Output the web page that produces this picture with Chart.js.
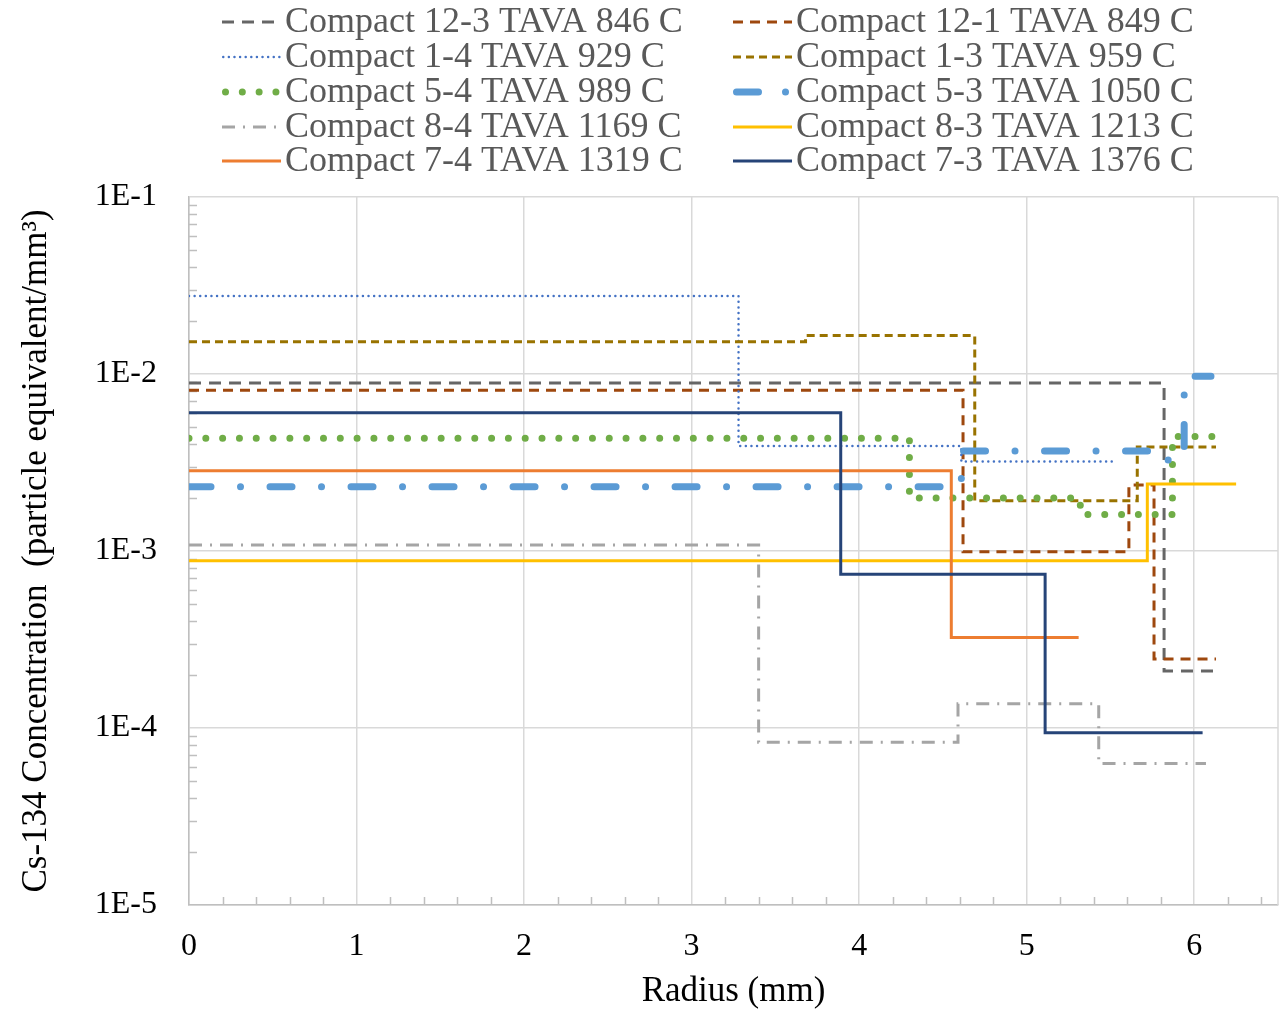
<!DOCTYPE html>
<html><head><meta charset="utf-8">
<script src="https://cdn.jsdelivr.net/npm/chart.js@4.4.1/dist/chart.umd.min.js"></script>
<style>html,body{margin:0;padding:0;background:#fff;}#wrap{width:1287px;height:1012px;}</style>
</head><body><div id="wrap"><canvas id="c" width="1287" height="1012"></canvas></div>
<script>
// ---- data (radius step edges in mm, concentration per step) ----
const seriesNames = [
  'Compact 12-3 TAVA 846 C', 'Compact 12-1 TAVA 849 C',
  'Compact 1-4 TAVA 929 C', 'Compact 1-3 TAVA 959 C',
  'Compact 5-4 TAVA 989 C', 'Compact 5-3 TAVA 1050 C',
  'Compact 8-4 TAVA 1169 C', 'Compact 8-3 TAVA 1213 C',
  'Compact 7-4 TAVA 1319 C', 'Compact 7-3 TAVA 1376 C'
];
const edges12_3 = [0, 5.82, 6.13];
const conc12_3  = [8.9e-3, 2.1e-4];
const edges12_1 = [0, 4.62, 5.61, 5.76, 6.13];
const conc12_1  = [8.1e-3, 9.9e-4, 2.36e-3, 2.45e-4];
const edges1_4  = [0, 3.28, 4.61, 5.52];
const conc1_4   = [2.76e-2, 3.92e-3, 3.2e-3];
const edges1_3  = [0, 3.68, 4.69, 5.66, 6.13];
const conc1_3   = [1.52e-2, 1.65e-2, 1.92e-3, 3.87e-3];
const edges5_4  = [0, 4.30, 5.32, 5.87, 6.11];
const conc5_4   = [4.33e-3, 1.99e-3, 1.61e-3, 4.43e-3];
const edges5_3  = [0, 4.61, 5.75, 5.94, 6.10];
const conc5_3   = [2.31e-3, 3.67e-3, 3.27e-3, 9.7e-3];
const edges8_4  = [0, 3.40, 4.59, 5.43, 6.07];
const conc8_4   = [1.08e-3, 8.3e-5, 1.37e-4, 6.3e-5];
const edges8_3  = [0, 5.72, 6.25];
const conc8_3   = [8.8e-4, 2.39e-3];
const edges7_4  = [0, 4.55, 5.31];
const conc7_4   = [2.84e-3, 3.25e-4];
const edges7_3  = [0, 3.89, 5.11, 6.05];
const conc7_3   = [6.04e-3, 7.38e-4, 9.4e-5];

const xTickValues = [0, 1, 2, 3, 4, 5, 6];
const yTickValues = [1e-5, 1e-4, 1e-3, 1e-2, 1e-1];

// ---- styles ----
const styles = [
  {color:'#666666', width:3, dash:[12,8], cap:'butt'},
  {color:'#9E480E', width:3, dash:[10,7], cap:'butt'},
  {color:'#4472C4', width:2.5, dash:[0.01,5.6], cap:'round'},
  {color:'#997300', width:3, dash:[8,5], cap:'butt'},
  {color:'#70AD47', width:7, dash:[0.01,16.8], cap:'round'},
  {color:'#5B9BD5', width:7, dash:[22,29.5,0.01,29.5], cap:'round', legendDash:[22,27,0.01,100]},
  {color:'#A5A5A5', width:3, dash:[13,8,2,8], cap:'butt'},
  {color:'#FFC000', width:3, dash:[], cap:'butt'},
  {color:'#ED7D31', width:3, dash:[], cap:'butt'},
  {color:'#264478', width:3, dash:[], cap:'butt'}
];
const edgeSets = [edges12_3, edges12_1, edges1_4, edges1_3, edges5_4, edges5_3, edges8_4, edges8_3, edges7_4, edges7_3];
const concSets = [conc12_3, conc12_1, conc1_4, conc1_3, conc5_4, conc5_3, conc8_4, conc8_3, conc7_4, conc7_3];

function stepPoints(edges, conc) {
  const pts = conc.map((v, i) => ({x: edges[i], y: v}));
  pts.push({x: edges[edges.length - 1], y: conc[conc.length - 1]});
  return pts;
}

const datasets = seriesNames.map((name, i) => ({
  label: name,
  data: stepPoints(edgeSets[i], concSets[i]),
  stepped: 'before',
  borderColor: styles[i].color,
  backgroundColor: styles[i].color,
  borderWidth: styles[i].width,
  borderDash: styles[i].dash,
  borderCapStyle: styles[i].cap,
  borderJoinStyle: 'miter',
  pointRadius: 0,
  pointHoverRadius: 0,
  fill: false,
  tension: 0,
  order: seriesNames.length - i
}));

const FONT = "'Liberation Serif', 'Times New Roman', serif";

const decorPlugin = {
  id: 'decor',
  beforeDatasetsDraw(chart) {
    const {ctx, chartArea: a, scales: {x, y}} = chart;
    ctx.save();
    ctx.strokeStyle = '#d9d9d9';
    ctx.lineWidth = 1.5;
    ctx.beginPath();
    ctx.moveTo(a.right, a.top); ctx.lineTo(a.right, a.bottom);
    ctx.stroke();
    ctx.strokeStyle = '#bfbfbf';
    ctx.lineWidth = 1.5;
    ctx.beginPath();
    for (let k = -5; k < -1; k++) {
      for (let m = 2; m <= 9; m++) {
        const py = Math.round(y.getPixelForValue(m * Math.pow(10, k))) + 0.5;
        ctx.moveTo(a.left, py); ctx.lineTo(a.left + 8, py);
      }
    }
    for (let t = 1; t <= 32; t++) {
      if (t % 5 === 0) continue;
      const px = Math.round(x.getPixelForValue(t * 0.2)) + 0.5;
      ctx.moveTo(px, a.bottom); ctx.lineTo(px, a.bottom - 8);
    }
    ctx.stroke();
    ctx.restore();
  },
  afterDraw(chart) {
    const {ctx} = chart;
    ctx.save();
    ctx.font = '36px ' + FONT;
    ctx.textBaseline = 'middle';
    ctx.textAlign = 'left';
    const colX = [222, 733];
    const rowY = [22, 57, 92, 127, 161];
    chart.data.datasets.forEach((ds, i) => {
      const col = i % 2, row = Math.floor(i / 2);
      const x0 = colX[col], yy = rowY[row];
      ctx.save();
      ctx.strokeStyle = ds.borderColor;
      ctx.lineWidth = ds.borderWidth;
      ctx.setLineDash(styles[i].legendDash || ds.borderDash);
      ctx.lineCap = ds.borderCapStyle;
      ctx.beginPath();
      const pad = ds.borderCapStyle === 'round' ? ds.borderWidth / 2 : 0;
      ctx.moveTo(x0 + pad, yy); ctx.lineTo(x0 + 58 - pad + 1, yy);
      ctx.stroke();
      ctx.restore();
      ctx.fillStyle = '#595959';
      ctx.fillText(ds.label, x0 + 63, yy + 1);
    });
    ctx.restore();
  }
};

new Chart(document.getElementById('c'), {
  type: 'line',
  data: {datasets},
  plugins: [decorPlugin],
  options: {
    responsive: false,
    devicePixelRatio: 1,
    animation: false,
    events: [],
    layout: {padding: {top: 197, right: 9, bottom: 0, left: 0}},
    plugins: {legend: {display: false}, tooltip: {enabled: false}},
    scales: {
      x: {
        type: 'linear', min: 0, max: 6.5,
        afterBuildTicks: s => { s.ticks = xTickValues.map(v => ({value: v})); },
        afterFit: s => { s.height = 107; },
        ticks: {font: {family: FONT, size: 32}, color: '#000', padding: 22, maxRotation: 0,
                callback: v => String(v)},
        grid: {color: '#d9d9d9', lineWidth: 1.5, drawTicks: false},
        border: {color: '#bfbfbf', width: 1.5},
        title: {display: true, text: 'Radius (mm)', color: '#000',
                font: {family: FONT, size: 35}, padding: {top: 0, bottom: -1}}
      },
      y: {
        type: 'logarithmic', min: 1e-5, max: 1e-1,
        afterBuildTicks: s => { s.ticks = yTickValues.map(v => ({value: v})); },
        afterFit: s => { s.width = 189; },
        ticks: {font: {family: FONT, size: 32}, color: '#000', padding: 32,
                callback: v => '1E' + Math.round(Math.log10(v))},
        grid: {color: '#d9d9d9', lineWidth: 1.5, drawTicks: false},
        border: {color: '#bfbfbf', width: 1.5},
        title: {display: true, text: 'Cs-134 Concentration  (particle equivalent/mm\u00B3)', color: '#000',
                font: {family: FONT, size: 35}, padding: {top: 16, bottom: 0}}
      }
    }
  }
});
</script></body></html>
